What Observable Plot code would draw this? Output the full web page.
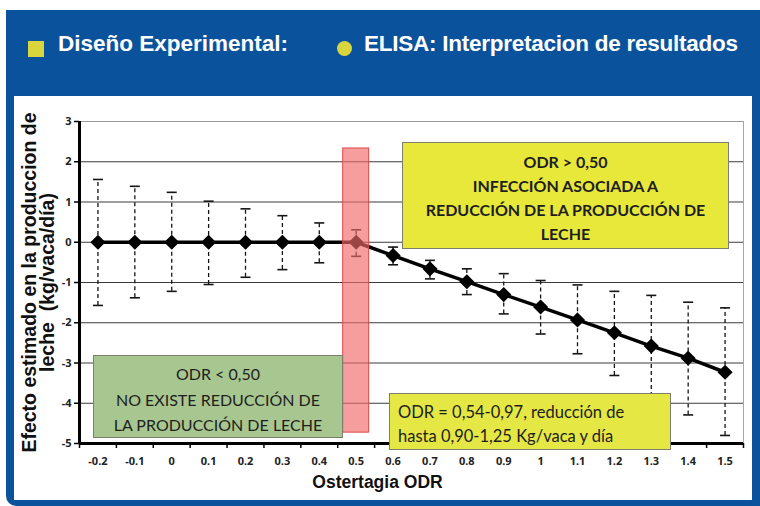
<!DOCTYPE html>
<html><head><meta charset="utf-8">
<script src="https://cdn.jsdelivr.net/npm/d3@7"></script>
<script src="https://cdn.jsdelivr.net/npm/@observablehq/plot@0.6"></script>
<style>
body{margin:0;background:#fff;width:760px;height:506px;overflow:hidden;position:relative;font-family:"Liberation Sans",Arial,sans-serif;}
#frame{position:absolute;left:6px;top:10px;width:754px;height:496px;background:#0b529c;border-bottom-left-radius:10px;}
.leg{position:absolute;color:#fff;font-weight:bold;font-size:22.5px;white-space:nowrap;line-height:22.5px;}
#sq{position:absolute;left:28px;top:41px;width:16px;height:16px;background:#d9d53c;}
#ci{position:absolute;left:336.5px;top:41px;width:15px;height:15px;border-radius:50%;background:#d9d53c;}
#panel{position:absolute;left:14px;top:96px;width:738px;height:404px;background:#fff;}
#panel svg{position:absolute;left:0;top:0;}
.box{position:absolute;box-sizing:border-box;border:1px solid #7d7d70;font-family:Lato,"Open Sans",sans-serif;color:#1e1e1e;font-size:16px;}
</style></head>
<body>
<div id="frame"></div>
<div id="sq"></div>
<div class="leg" style="left:58px;top:32.6px;">Diseño Experimental:</div>
<div id="ci"></div>
<div class="leg" style="left:364px;top:32.6px;letter-spacing:-0.25px;">ELISA: Interpretacion de resultados</div>
<div id="panel"></div>
<script>
// ---- data ----
const odr = [-0.2,-0.1,0,0.1,0.2,0.3,0.4,0.5,0.6,0.7,0.8,0.9,1.0,1.1,1.2,1.3,1.4,1.5];
const efecto = [0,0,0,0,0,0,0,0,-0.33,-0.66,-0.98,-1.30,-1.61,-1.93,-2.25,-2.58,-2.88,-3.23];
const superior = [1.56,1.39,1.24,1.02,0.83,0.66,0.48,0.31,-0.12,-0.45,-0.66,-0.78,-0.95,-1.06,-1.22,-1.32,-1.49,-1.63];
const inferior = [-1.57,-1.38,-1.22,-1.05,-0.87,-0.68,-0.51,-0.35,-0.56,-0.91,-1.30,-1.78,-2.28,-2.77,-3.31,-3.83,-4.29,-4.80];
const yTicks = [3,2,1,0,-1,-2,-3,-4,-5];
const gridY = [2,1,0,-1,-2,-3,-4];
const xLabels = ["-0.2","-0.1","0","0.1","0.2","0.3","0.4","0.5","0.6","0.7","0.8","0.9","1","1.1","1.2","1.3","1.4","1.5"];
const tituloY = "Efecto estimado en la produccion de\nleche  (kg/vaca/día)";
const tituloX = "Ostertagia ODR";
const umbral = {x1: 0.4648, x2: 0.5352, y1: -4.73, y2: 2.33};

const data = odr.map((x,i)=>({x, y: efecto[i], hi: superior[i], lo: inferior[i]}));
const bounds = odr.map(v => v - 0.05).concat([odr[odr.length-1] + 0.05]);
const xMin = bounds[0], xMax = bounds[bounds.length-1];
const cap = {draw(ctx, size){ const r = Math.sqrt(size/Math.PI); ctx.moveTo(-r,0); ctx.lineTo(r,0); }};
const rombo = {draw(ctx, size){ const r = Math.sqrt(size/Math.PI); ctx.moveTo(0,-r); ctx.lineTo(r,0); ctx.lineTo(0,r); ctx.lineTo(-r,0); ctx.closePath(); }};

const chart = Plot.plot({
  width: 738, height: 404,
  marginLeft: 65, marginRight: 9, marginTop: 25, marginBottom: 57,
  x: {domain: [xMin, xMax], axis: null},
  y: {domain: [-5, 3], axis: null},
  style: {background: "transparent", overflow: "visible"},
  marks: [
    Plot.ruleY([3], {stroke: "#9a9a9a", strokeWidth: 1}),
    Plot.ruleY(gridY, {stroke: "#3c3c3c", strokeWidth: 1}),
    Plot.ruleX([xMax], {stroke: "#a8a8a8", strokeWidth: 1}),
    Plot.ruleX(data, {x: "x", y1: "lo", y2: "hi", stroke: "#151515", strokeWidth: 1.3, strokeDasharray: "4,3"}),
    Plot.dot(data, {x: "x", y: "hi", symbol: cap, r: 5, stroke: "#151515", strokeWidth: 1.6}),
    Plot.dot(data, {x: "x", y: "lo", symbol: cap, r: 5, stroke: "#151515", strokeWidth: 1.6}),
    Plot.line(data, {x: "x", y: "y", stroke: "#000", strokeWidth: 3.5}),
    Plot.dot(data, {x: "x", y: "y", symbol: rombo, r: 6.5, fill: "#000", stroke: "#000"}),
    Plot.rect([umbral], {x1: "x1", x2: "x2", y1: "y1", y2: "y2", fill: "#f06a68", fillOpacity: 0.65, stroke: "#e04848", strokeWidth: 1}),
    Plot.ruleY([-5], {stroke: "#000", strokeWidth: 3}),
    Plot.ruleX([xMin], {x: d => d, y1: -5, y2: 3, stroke: "#000", strokeWidth: 3}),
    Plot.axisX(bounds, {tickSize: 5, tickFormat: () => "", stroke: "#000", strokeWidth: 1.5}),
    Plot.axisX(odr, {tickSize: 0, tickPadding: 14, fontSize: 11, fontWeight: "bold", fill: "#222", tickFormat: (d) => xLabels[odr.indexOf(d)]}),
    Plot.axisY(yTicks, {tickSize: 5, tickPadding: 3, fontSize: 11, fontWeight: "bold", fill: "#222", stroke: "#000", strokeWidth: 1.5, tickFormat: d => String(d)}),
    Plot.text([tituloY], {text: d => d, frameAnchor: "left", textAnchor: "middle", lineAnchor: "middle", dx: -40, dy: 0, rotate: -90, fontSize: 19.5, fontWeight: "bold", fill: "#111", lineHeight: 0.93, fontFamily: "Liberation Sans, Arial, sans-serif"}),
    Plot.text([tituloX], {text: d => d, frameAnchor: "bottom", dx: -34, dy: 44, fontSize: 17.5, fontWeight: "bold", fill: "#111", fontFamily: "Liberation Sans, Arial, sans-serif"})
  ]
});
const panel = document.getElementById("panel");
panel.appendChild(chart);

function box(style, html){
  const d = document.createElement("div");
  d.className = "box";
  d.setAttribute("style", style);
  d.innerHTML = html;
  panel.appendChild(d);
}
box("left:388px;top:46px;width:327px;height:107px;background:#e7e83a;text-align:center;font-weight:bold;line-height:24px;padding-top:7px;",
    "ODR &gt; 0,50<br>INFECCIÓN ASOCIADA A<br>REDUCCIÓN DE LA PRODUCCIÓN DE<br>LECHE");
box("left:79px;top:259px;width:250px;height:83px;background:#a8c68f;text-align:center;line-height:25.5px;padding-top:5px;",
    "ODR &lt; 0,50<br>NO EXISTE REDUCCIÓN DE<br>LA PRODUCCIÓN DE LECHE");
box("left:375px;top:297px;width:282px;height:57px;background:#e5e744;text-align:left;line-height:23.5px;padding-top:7px;padding-left:8px;font-size:16.5px;white-space:nowrap;",
    "ODR = 0,54-0,97, reducción de<br>hasta 0,90-1,25 Kg/vaca y día");
</script>
</body></html>
